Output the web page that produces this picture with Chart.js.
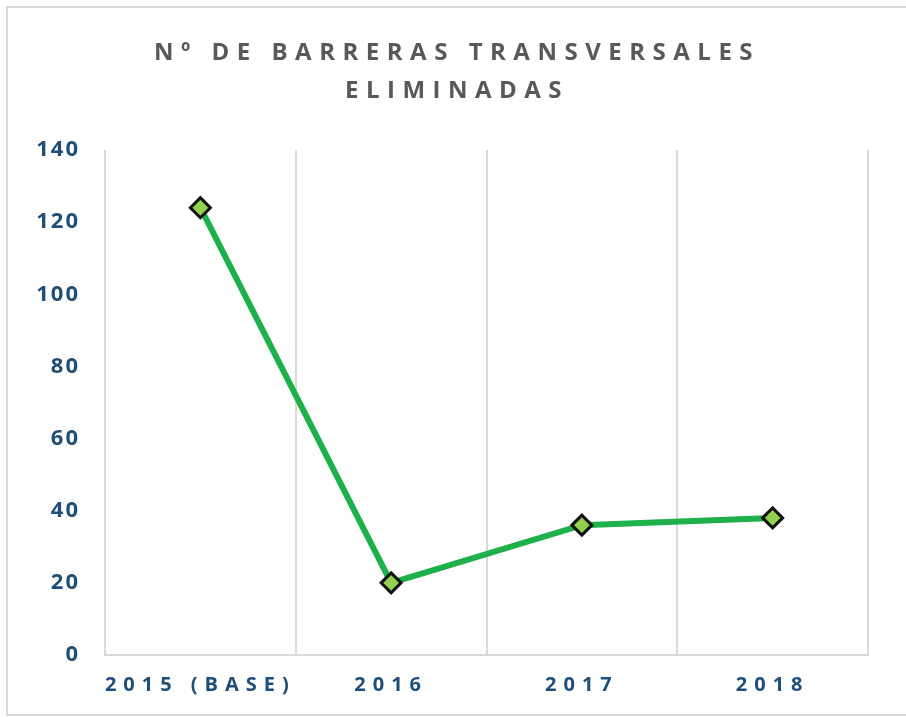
<!DOCTYPE html>
<html>
<head>
<meta charset="utf-8">
<script src="https://cdn.jsdelivr.net/npm/chart.js@4"></script>
<style>
    html, body { margin: 0; padding: 0; background: #fff; }
    #frame {
        position: absolute; left: 6px; top: 6px; width: 1000px; height: 706px;
        border: 2px solid #d9d9d9;
    }
    #chart { position: absolute; left: 0; top: 0; }
</style>
</head>
<body>
<div id="frame"></div>
<canvas id="chart" width="906" height="717"></canvas>
<script>
const titleLines = ['Nº DE BARRERAS TRANSVERSALES', 'ELIMINADAS'];
const categories = ['2015 (BASE)', '2016', '2017', '2018'];
const barreras = [124, 20, 36, 38];
const yTicks = [0, 20, 40, 60, 80, 100, 120, 140];

const FONT = '"Open Sans", sans-serif';
const BLUE = '#1F4E79';

// letter spacing: y labels get the base value, x labels and title a wider one
const spacing = {
    id: 'spacing',
    beforeLayout(chart) { chart.ctx.letterSpacing = '2px'; },
    beforeDraw(chart) {
        chart.ctx.letterSpacing = '2px';
        const x = chart.scales.x;
        if (!x._spaced) {
            const orig = x.drawLabels;
            x.drawLabels = function (area) {
                const ctx = this.ctx;
                ctx.save();
                ctx.letterSpacing = '7px';
                orig.call(this, area);
                ctx.restore();
            };
            x._spaced = true;
        }
    }
};

const spacedTitle = {
    id: 'spacedTitle',
    afterDraw(chart) {
        const ctx = chart.ctx;
        ctx.save();
        ctx.letterSpacing = '7.5px';
        ctx.font = 'bold 24px ' + FONT;
        ctx.fillStyle = '#595959';
        ctx.textAlign = 'center';
        ctx.textBaseline = 'middle';
        titleLines.forEach((t, i) => ctx.fillText(t, 457, 53 + i * 38));
        ctx.restore();
    }
};

new Chart(document.getElementById('chart'), {
    type: 'line',
    data: {
        labels: categories,
        datasets: [{
            data: barreras,
            borderColor: '#1DB04B',
            borderWidth: 6,
            pointStyle: 'rectRot',
            pointRadius: 10,
            pointHoverRadius: 10,
            pointBackgroundColor: '#92D050',
            pointBorderColor: '#111',
            pointBorderWidth: 3,
            tension: 0
        }]
    },
    plugins: [spacing, spacedTitle],
    options: {
        responsive: false,
        animation: false,
        layout: { padding: { top: 150, right: 38, bottom: 0, left: 0 } },
        plugins: {
            legend: { display: false },
            title: { display: false },
            tooltip: { enabled: false }
        },
        scales: {
            x: {
                offset: true,
                grid: { offset: true, color: '#D9D9D9', lineWidth: 2, drawTicks: false },
                border: { display: true, color: '#D9D9D9', width: 2 },
                ticks: { color: BLUE, font: { family: FONT, size: 20, weight: 'bold' }, padding: 18 },
                afterFit: s => { s.height = 62; }
            },
            y: {
                min: 0,
                max: 140,
                afterBuildTicks: s => { s.ticks = yTicks.map(v => ({ value: v })); },
                grid: { display: false, drawTicks: false },
                border: { display: false },
                ticks: { color: BLUE, font: { family: FONT, size: 22, weight: 'bold' }, padding: 25 },
                afterFit: s => { s.width = 105; }
            }
        }
    }
});
</script>
</body>
</html>
